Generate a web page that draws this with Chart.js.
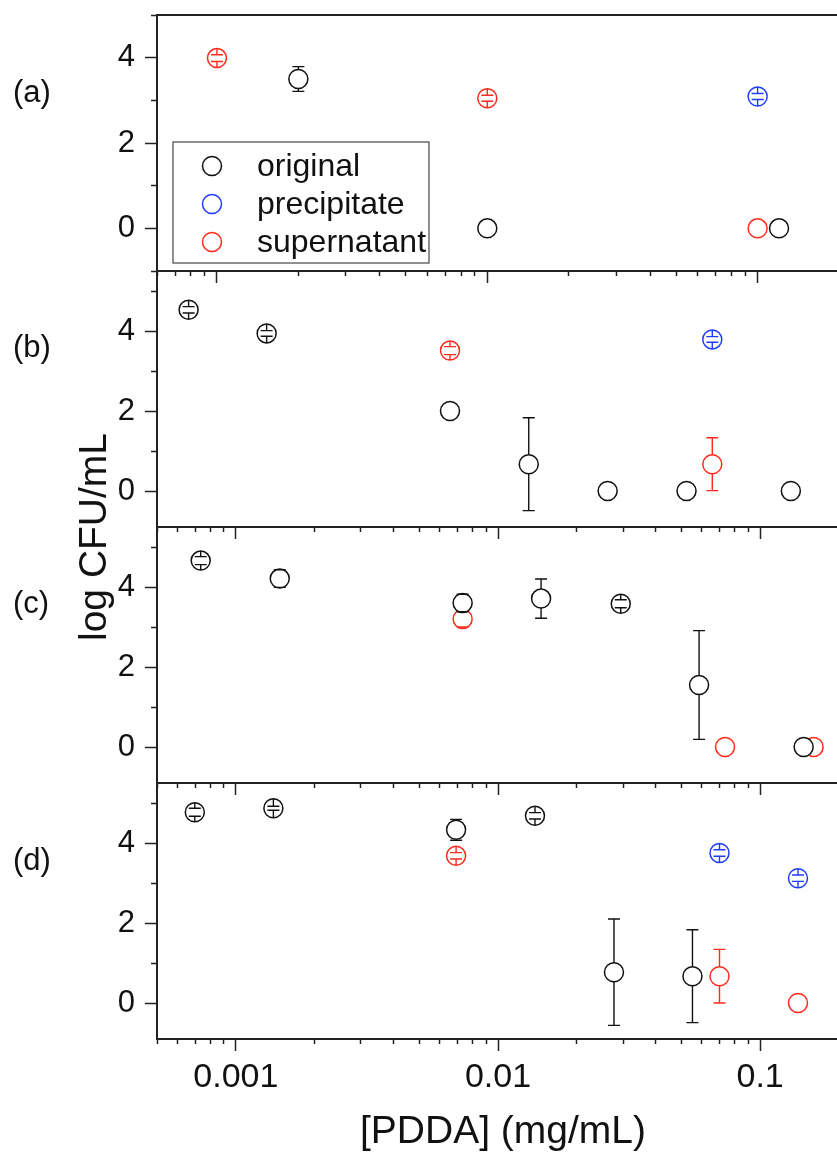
<!DOCTYPE html>
<html>
<head>
<meta charset="utf-8">
<script src="https://cdn.jsdelivr.net/npm/chart.js@4/dist/chart.umd.min.js"></script>
<style>
  body { margin: 0; background: #fff; overflow: hidden; width: 837px; height: 1153px; position: relative; }
  canvas { position: absolute; left: 0; }
  .lbl { position: absolute; font-family: "Liberation Sans", Arial, sans-serif; color: #111; white-space: nowrap; }
</style>
</head>
<body>
<canvas id="pa" width="850" height="300" style="top:0px"></canvas>
<canvas id="pb" width="850" height="300" style="top:256px"></canvas>
<canvas id="pc" width="850" height="300" style="top:512px"></canvas>
<canvas id="pd" width="850" height="385" style="top:768px"></canvas>

<div class="lbl" style="left:13px;top:92px;font-size:31px;transform:translateY(-50%)">(a)</div>
<div class="lbl" style="left:13px;top:347px;font-size:31px;transform:translateY(-50%)">(b)</div>
<div class="lbl" style="left:13px;top:603px;font-size:31px;transform:translateY(-50%)">(c)</div>
<div class="lbl" style="left:13px;top:860px;font-size:31px;transform:translateY(-50%)">(d)</div>
<div class="lbl" style="left:93px;top:537px;font-size:39px;transform:translate(-50%,-50%) rotate(-90deg)">log CFU/mL</div>
<div class="lbl" style="left:503px;top:1130px;font-size:39px;transform:translate(-50%,-50%)">[PDDA] (mg/mL)</div>

<script>
// [x (mg/mL), log CFU/mL, error]
const aOriginal = [[0.002, 3.50, 0.29], [0.01, 0, 0], [0.12, 0, 0]];
const aPrecipitate = [[0.1, 3.09, 0.07]];
const aSupernatant = [[0.001, 3.99, 0.08], [0.01, 3.05, 0.07], [0.1, 0, 0]];

const bOriginal = [[0.00066, 4.53, 0.08], [0.00131, 3.94, 0.07], [0.00656, 2.0, 0], [0.0131, 0.67, 1.16],
                   [0.0262, 0, 0], [0.0524, 0, 0], [0.131, 0, 0]];
const bPrecipitate = [[0.0657, 3.79, 0.07]];
const bSupernatant = [[0.00656, 3.51, 0.1], [0.0657, 0.67, 0.66]];

const cOriginal = [[0.000734, 4.66, 0.1], [0.00147, 4.21, 0.22], [0.00733, 3.60, 0.22], [0.0146, 3.71, 0.49],
                   [0.0294, 3.58, 0.1], [0.0585, 1.55, 1.36], [0.1466, 0, 0]];
const cPrecipitate = [];
const cSupernatant = [[0.00733, 3.20, 0.2], [0.0735, 0, 0], [0.16, 0, 0]];

const dOriginal = [[0.000697, 4.77, 0.1], [0.00139, 4.87, 0.05], [0.00692, 4.33, 0.26], [0.01384, 4.68, 0.08],
                   [0.0277, 0.77, 1.33], [0.0552, 0.67, 1.16]];
const dPrecipitate = [[0.070, 3.75, 0.08], [0.1395, 3.12, 0.08]];
const dSupernatant = [[0.00692, 3.68, 0.08], [0.070, 0.67, 0.67], [0.1395, 0, 0]];

const seriesNames = ["original", "precipitate", "supernatant"];
const seriesColors = ["#111111", "#1f3dff", "#ff2b1c"];

const xTicksA = [0.0006, 0.0007, 0.0008, 0.0009, 0.001, 0.002, 0.003, 0.004, 0.005, 0.006, 0.007, 0.008, 0.009,
                 0.01, 0.02, 0.03, 0.04, 0.05, 0.06, 0.07, 0.08, 0.09, 0.1, 0.2];
const xTicksRest = [0.0005, 0.0006, 0.0007, 0.0008, 0.0009, 0.001, 0.002, 0.003, 0.004, 0.005, 0.006, 0.007, 0.008, 0.009,
                    0.01, 0.02, 0.03, 0.04, 0.05, 0.06, 0.07, 0.08, 0.09, 0.1, 0.2];
const xMajor = [0.001, 0.01, 0.1];
const yTicksA = [-1, 0, 1, 2, 3, 4, 5];
const yTicksRest = [0, 1, 2, 3, 4, 5];

const FONT = '"Liberation Sans", Arial, sans-serif';
const R = 9.5;

// vertical error bars, drawn right after each dataset so overlap order is kept
const errorBars = {
  id: 'errorBars',
  afterDatasetDraw(chart, args) {
    const ds = chart.data.datasets[args.index];
    const yScale = chart.scales.y;
    const ctx = chart.ctx;
    ctx.save();
    ctx.strokeStyle = ds.borderColor;
    ctx.lineWidth = 1.4;
    args.meta.data.forEach((pt, i) => {
      const d = ds.data[i];
      if (!d.err) return;
      const top = yScale.getPixelForValue(d.y + d.err);
      const bot = yScale.getPixelForValue(d.y - d.err);
      ctx.beginPath();
      ctx.moveTo(pt.x, pt.y - R); ctx.lineTo(pt.x, top);
      ctx.moveTo(pt.x, pt.y + R); ctx.lineTo(pt.x, bot);
      ctx.moveTo(pt.x - 6, top); ctx.lineTo(pt.x + 6, top);
      ctx.moveTo(pt.x - 6, bot); ctx.lineTo(pt.x + 6, bot);
      ctx.stroke();
    });
    ctx.restore();
  }
};

const frame = {
  id: 'frame',
  afterDraw(chart) {
    const a = chart.chartArea;
    const ctx = chart.ctx;
    ctx.save();
    ctx.strokeStyle = '#222';
    ctx.lineWidth = 2;
    ctx.strokeRect(a.left, a.top, a.right - a.left, a.bottom - a.top);
    ctx.restore();
  }
};

const legendBox = {
  id: 'legendBox',
  afterDraw(chart, args, opts) {
    if (!opts.show) return;
    const ctx = chart.ctx;
    ctx.save();
    ctx.strokeStyle = '#555';
    ctx.lineWidth = 1.3;
    ctx.strokeRect(173, 142, 256, 121);
    ctx.font = '32px ' + FONT;
    ctx.textBaseline = 'middle';
    seriesNames.forEach((name, i) => {
      const y = 166 + i * 38;
      ctx.beginPath();
      ctx.arc(212, y, R, 0, Math.PI * 2);
      ctx.strokeStyle = seriesColors[i];
      ctx.lineWidth = 1.5;
      ctx.stroke();
      ctx.fillStyle = '#111';
      ctx.fillText(name, 257, y + 1);
    });
    ctx.restore();
  }
};

function toPoints(rows) {
  return rows.map(r => ({ x: r[0], y: r[1], err: r[2] }));
}

function makePanel(id, series, opt) {
  const datasets = series.map((rows, i) => ({
    label: seriesNames[i],
    data: toPoints(rows),
    borderColor: seriesColors[i],
    backgroundColor: '#ffffff',
    borderWidth: 1.5,
    pointRadius: R,
    pointHoverRadius: R,
    showLine: false,
    clip: false
  }));

  return new Chart(document.getElementById(id).getContext('2d'), {
    type: 'scatter',
    data: { datasets },
    plugins: [errorBars, frame, legendBox],
    options: {
      responsive: false,
      animation: false,
      layout: { padding: { top: 15, right: 3, left: 0, bottom: 0 } },
      plugins: {
        legend: { display: false },
        tooltip: { enabled: false },
        legendBox: { show: !!opt.legend }
      },
      scales: {
        x: {
          type: 'logarithmic',
          position: 'bottom',
          min: opt.xMin,
          max: 0.2,
          afterBuildTicks: (s) => { s.ticks = opt.xTicks.map(v => ({ value: v, major: xMajor.includes(v) })); },
          afterFit: (s) => { s.height = opt.xHeight; s.paddingLeft = 0; s.paddingRight = 0; },
          border: { display: false },
          grid: {
            drawOnChartArea: false,
            drawTicks: true,
            tickLength: 12,
            tickWidth: 1.5,
            tickColor: '#222',
            tickBorderDash: (c) => xMajor.includes(c.tick.value) ? [] : [5, 50]
          },
          ticks: {
            display: !!opt.xLabels,
            autoSkip: false,
            maxRotation: 0,
            minRotation: 0,
            padding: 6,
            color: '#111',
            font: { family: FONT, size: 34 },
            callback: (v) => xMajor.includes(v) ? String(v) : ''
          }
        },
        y: {
          min: opt.yMin,
          max: opt.yMax,
          afterBuildTicks: (s) => { s.ticks = opt.yTicks.map(v => ({ value: v })); },
          afterFit: (s) => { s.width = 157; s.paddingTop = 0; s.paddingBottom = 0; },
          border: { display: false },
          grid: {
            drawOnChartArea: false,
            drawTicks: true,
            tickLength: 12,
            tickWidth: 1.5,
            tickColor: '#222',
            tickBorderDash: (c) => (c.tick.value % 2 === 0) ? [] : [0, 6, 6, 50]
          },
          ticks: {
            padding: 10,
            color: '#111',
            font: { family: FONT, size: 31 },
            callback: (v) => (v % 2 === 0) ? String(v) : ''
          }
        }
      }
    }
  });
}

makePanel('pa', [aOriginal, aPrecipitate, aSupernatant],
  { xMin: 0.0006, xTicks: xTicksA, yMin: -1, yMax: 5, yTicks: yTicksA, xHeight: 29, legend: true });
makePanel('pb', [bOriginal, bPrecipitate, bSupernatant],
  { xMin: 0.0005, xTicks: xTicksRest, yMin: -0.9, yMax: 5.5, yTicks: yTicksRest, xHeight: 29 });
makePanel('pc', [cOriginal, cPrecipitate, cSupernatant],
  { xMin: 0.0005, xTicks: xTicksRest, yMin: -0.9, yMax: 5.5, yTicks: yTicksRest, xHeight: 29 });
makePanel('pd', [dOriginal, dPrecipitate, dSupernatant],
  { xMin: 0.0005, xTicks: xTicksRest, yMin: -0.9, yMax: 5.5, yTicks: yTicksRest, xHeight: 114, xLabels: true });
</script>
</body>
</html>
